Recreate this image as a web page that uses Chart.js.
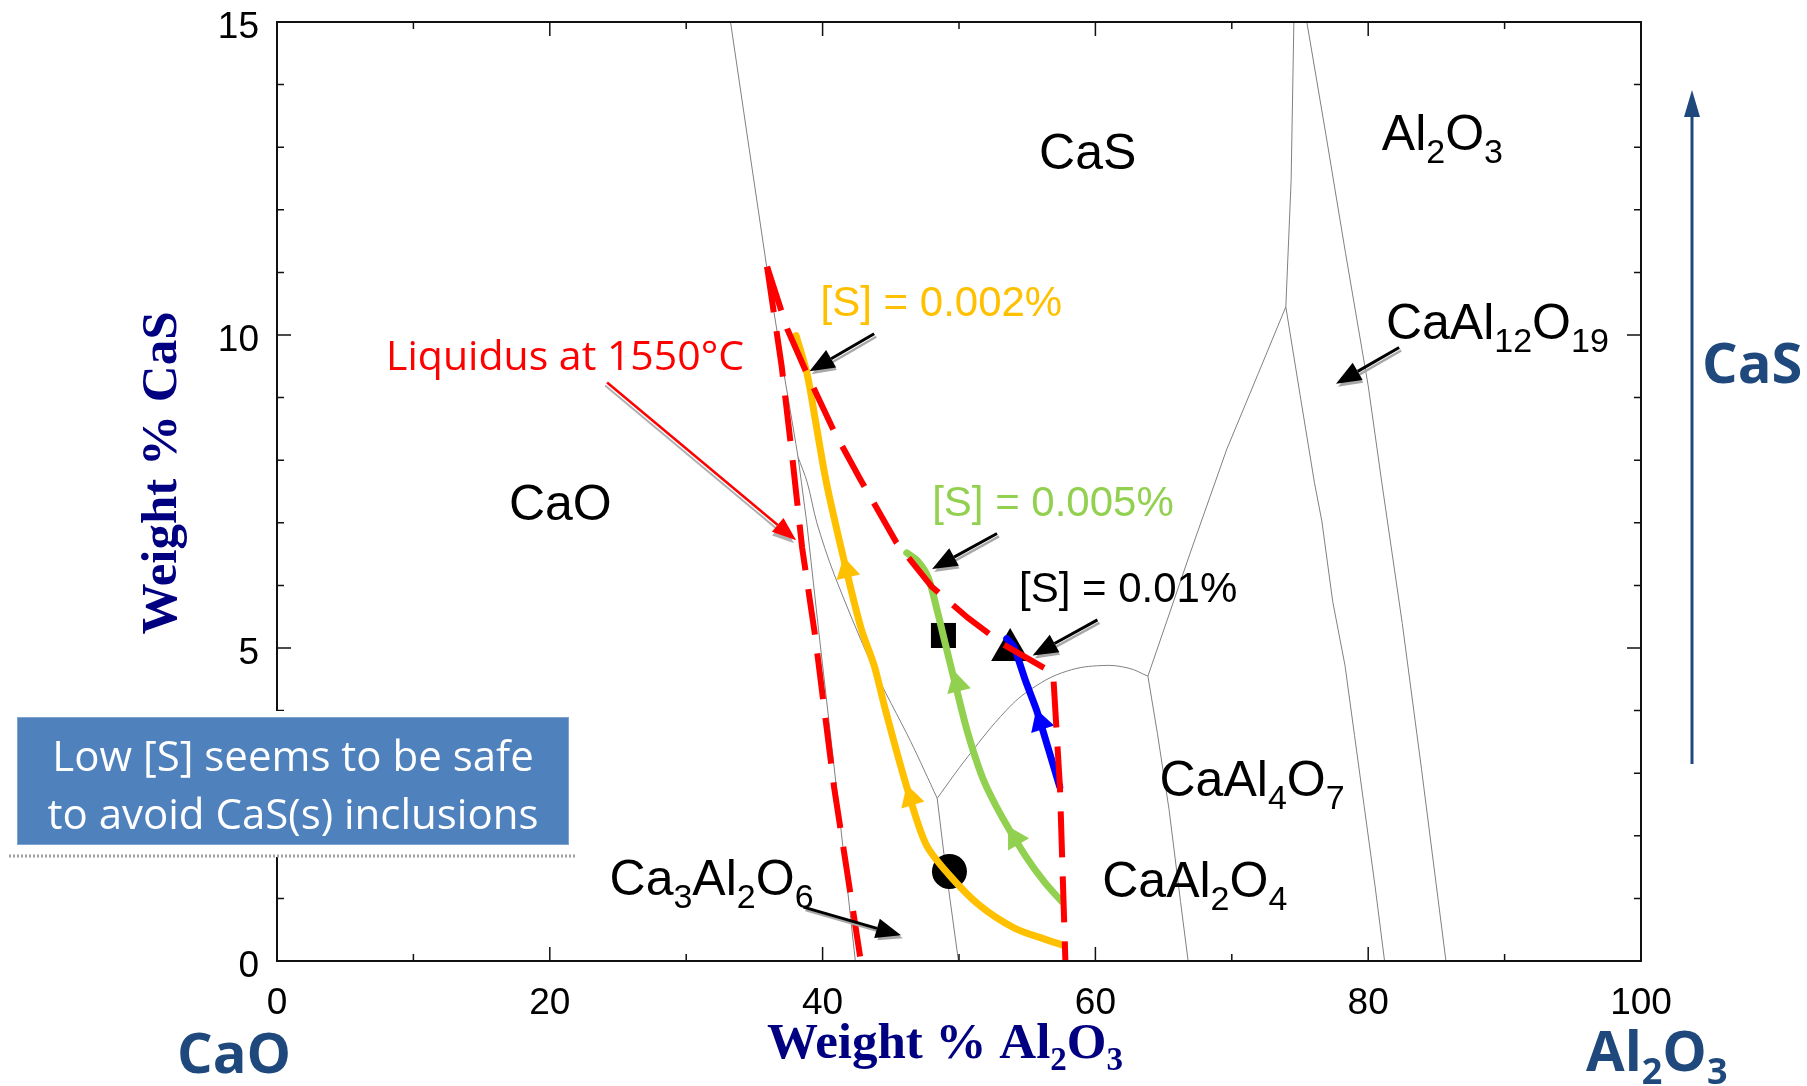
<!DOCTYPE html>
<html>
<head>
<meta charset="utf-8">
<title>CaO - Al2O3 - CaS</title>
<script src="https://cdn.jsdelivr.net/npm/chart.js@4.4.1/dist/chart.umd.min.js"></script>
<style>
  html, body { margin: 0; padding: 0; background: #fff; }
  #contenedor { width: 1807px; height: 1086px; }
</style>
</head>
<body>
<div id="contenedor"><canvas id="diagrama" width="1807" height="1086"></canvas></div>
<script>
// Ejes: % Al2O3 (x) y % CaS (y)
const ticksX = [0, 20, 40, 60, 80, 100];
const ticksY = [0, 5, 10, 15];

// Límites de fase (líneas grises), pares [x, y]
const limiteCaO = [[33.25, 15], [34.6, 13.0], [35.9, 11.09], [37.0, 9.6], [38.05, 8.25], [38.2, 8.05]];
const limiteCaO_C3A = [[38.2, 8.05], [38.45, 7.64], [38.84, 7.0], [39.7, 5.3], [40.8, 3.19], [41.6, 1.6], [42.4, 0]];
const limiteCaS_C3A = [[38.2, 8.05], [38.88, 7.64], [39.58, 7.0], [40.84, 6.18], [43.64, 4.72], [46.45, 3.51], [48.4, 2.6]];
const limiteC3A_CA = [[48.4, 2.6], [48.98, 1.56], [49.96, 0]];
const limiteCaS_CA = [[48.4, 2.6], [50.67, 3.27], [53.45, 4.0], [55.4, 4.36], [57.9, 4.63], [60.5, 4.72], [62.4, 4.68], [63.85, 4.55]];
const limiteCA_CA2 = [[63.85, 4.55], [64.55, 3.63], [65.4, 2.42], [66.24, 0.95], [66.8, 0]];
const limiteCaS_CA2 = [[63.85, 4.55], [67.0, 6.55], [69.64, 8.18], [71.93, 9.38], [73.96, 10.45]];
const limiteCaS_A = [[73.96, 10.45], [74.35, 12.47], [74.55, 15]];
const limiteCA2_CA6 = [[73.96, 10.45], [75.0, 9.05], [76.06, 7.64], [76.6, 7.03], [77.4, 5.74], [78.3, 4.72], [79.0, 3.6], [79.7, 2.48], [80.5, 1.2], [81.2, 0]];
const limiteCA6_A = [[75.5, 15], [76.9, 13.2], [78.33, 11.32], [80.0, 9.19], [81.0, 7.64], [82.5, 5.39], [83.9, 3.08], [85.7, 0]];

// Liquidus a 1550 °C (rojo discontinuo)
const liquidusIzq = [[35.93, 11.09], [37.0, 9.5], [37.8, 8.0], [38.5, 6.6], [39.44, 5.21], [40.84, 2.78], [42.8, 0]];
const liquidusDer = [[35.93, 11.09], [37.4, 10.1], [38.86, 9.38], [40.84, 8.46], [42.8, 7.68], [45.4, 6.69], [48.0, 5.98], [50.66, 5.48], [53.3, 5.05], [56.9, 4.6], [57.4, 2.78], [57.8, 0]];

// Trayectorias para cada [S]
const curvaS002 = [[38.06, 9.99], [38.86, 9.38], [39.5, 8.6], [40.28, 7.64], [41.54, 6.43], [42.8, 5.33], [43.78, 4.72], [44.63, 3.99], [46.17, 2.78], [47.57, 1.87], [49.26, 1.38], [51.5, 0.89], [54.03, 0.53], [56.27, 0.35], [57.68, 0.25]];
const curvaS005 = [[46.17, 6.52], [47.0, 6.38], [47.75, 6.12], [48.4, 5.6], [48.97, 5.09], [49.8, 4.36], [50.66, 3.63], [51.78, 2.9], [53.18, 2.29], [54.87, 1.68], [56.27, 1.26], [57.53, 0.95]];
const curvaS01 = [[53.5, 5.15], [54.02, 5.02], [54.87, 4.48], [55.7, 4.0], [56.55, 3.39], [57.39, 2.78]];

// Puntas de flecha sobre las trayectorias
const flechasS002 = [[41.77, 6.24], [46.47, 2.6]];
const flechasS005 = [[49.88, 4.42], [54.11, 1.96]];
const flechasS01 = [[55.98, 3.81]];

// Composiciones marcadas
const puntoCuadrado = [[48.86, 5.2]];
const puntoTriangulo = [[53.75, 4.97]];
const puntoCirculo = [[49.3, 1.43]];

const SANS = '"Liberation Sans", Arial, sans-serif';
const SERIF = '"Liberation Serif", "Times New Roman", serif';
const CALIBRI = '"Open Sans", "Noto Sans", sans-serif';
const AZUL_OSCURO = '#1F497D';

const aPuntos = arr => arr.map(([x, y]) => ({ x, y }));

function linea(datos, color, ancho, extra) {
    return Object.assign({
        data: aPuntos(datos),
        showLine: true,
        borderColor: color,
        borderWidth: ancho,
        pointRadius: 0,
        fill: false,
        tension: 0
    }, extra || {});
}

function marcador(datos, estilo, radio, extra) {
    return Object.assign({
        data: aPuntos(datos),
        showLine: false,
        pointStyle: estilo,
        pointRadius: radio,
        pointBackgroundColor: '#000',
        pointBorderColor: '#000',
        pointBorderWidth: 0
    }, extra || {});
}

const gris = { order: 4 };
const datasets = [
    linea(limiteCaO, '#808080', 1, gris),
    linea(limiteCaO_C3A, '#808080', 1, gris),
    linea(limiteCaS_C3A, '#808080', 1, Object.assign({ tension: 0.3 }, gris)),
    linea(limiteC3A_CA, '#808080', 1, gris),
    linea(limiteCaS_CA, '#808080', 1, Object.assign({ tension: 0.4 }, gris)),
    linea(limiteCA_CA2, '#808080', 1, gris),
    linea(limiteCaS_CA2, '#808080', 1, gris),
    linea(limiteCaS_A, '#808080', 1, gris),
    linea(limiteCA2_CA6, '#808080', 1, gris),
    linea(limiteCA6_A, '#808080', 1, gris),

    marcador(puntoCuadrado, 'rect', 17.7, { order: 3 }),
    marcador(puntoTriangulo, 'triangle', 22, { order: 3 }),
    marcador(puntoCirculo, 'circle', 17.5, { order: 3 }),

    linea(curvaS002, '#FFC000', 7, { order: 2, tension: 0.3, borderCapStyle: 'round' }),
    linea(curvaS005, '#92D050', 7, { order: 2, tension: 0.3, borderCapStyle: 'round' }),
    linea(curvaS01, '#0000FF', 7, { order: 2, tension: 0.2, borderCapStyle: 'round' }),

    marcador(flechasS002, 'triangle', 14, { order: 1, pointBackgroundColor: '#FFC000', pointBorderColor: '#FFC000', pointRotation: [-13, -17] }),
    marcador(flechasS005, 'triangle', 14, { order: 1, pointBackgroundColor: '#92D050', pointBorderColor: '#92D050', pointRotation: [-14, -30] }),
    marcador(flechasS01, 'triangle', 14, { order: 1, pointBackgroundColor: '#0000FF', pointBorderColor: '#0000FF', pointRotation: [-18] }),

    linea(liquidusIzq, '#FF0000', 6, { order: 0, borderDash: [46, 19] }),
    linea(liquidusDer, '#FF0000', 6, { order: 0, borderDash: [46, 19] })
];

// Rótulos de fases (posición en unidades de los ejes: izquierda y línea base)
const rotulosFases = [
    { texto: 'CaS', x: 55.87, y: 12.65 },
    { texto: 'Al2O3', x: 81.0, y: 12.96 },
    { texto: 'CaAl12O19', x: 81.3, y: 9.93 },
    { texto: 'CaO', x: 17.0, y: 7.04 },
    { texto: 'CaAl4O7', x: 64.7, y: 2.63 },
    { texto: 'CaAl2O4', x: 60.5, y: 1.03 },
    { texto: 'Ca3Al2O6', x: 24.38, y: 1.05 }
];

const rotulosAzufre = [
    { texto: '[S] = 0.002%', x: 39.85, y: 10.3, color: '#FFC000' },
    { texto: '[S] = 0.005%', x: 48.03, y: 7.11, color: '#92D050' },
    { texto: '[S] = 0.01%', x: 54.4, y: 5.73, color: '#000' }
];

// Flechas de anotación: [x0, y0, x1, y1]
const flechasNegras = [
    [43.78, 10.02, 39.04, 9.42],
    [52.79, 6.83, 48.03, 6.26],
    [60.15, 5.45, 55.4, 4.88],
    [82.27, 9.8, 77.64, 9.22],
    [38.6, 0.86, 45.75, 0.41]
];
const flechaLiquidus = [24.2, 9.24, 38.06, 6.72];

function textoQuimico(ctx, texto, x, y, tam, tamSub, bajada, familia, peso) {
    const trozos = texto.match(/[^0-9]+|[0-9]+/g);
    let cx = x;
    trozos.forEach(t => {
        const esSub = /^[0-9]+$/.test(t);
        ctx.font = `${peso} ${esSub ? tamSub : tam}px ${familia}`;
        ctx.fillText(t, cx, esSub ? y + bajada : y);
        cx += ctx.measureText(t).width;
    });
    return cx - x;
}

function flecha(ctx, x0, y0, x1, y1, color, ancho, largo, medio) {
    const ang = Math.atan2(y1 - y0, x1 - x0);
    const bx = x1 - Math.cos(ang) * largo, by = y1 - Math.sin(ang) * largo;
    ctx.strokeStyle = color;
    ctx.lineWidth = ancho;
    ctx.beginPath(); ctx.moveTo(x0, y0); ctx.lineTo(bx, by); ctx.stroke();
    ctx.fillStyle = color;
    ctx.beginPath();
    ctx.moveTo(x1, y1);
    ctx.lineTo(bx + Math.sin(ang) * medio, by - Math.cos(ang) * medio);
    ctx.lineTo(bx - Math.sin(ang) * medio, by + Math.cos(ang) * medio);
    ctx.closePath();
    ctx.fill();
}

const decorado = {
    id: 'decorado',
    afterDatasetsDraw(chart) {
        const { ctx, chartArea: a, scales: { x, y } } = chart;
        const px = v => x.getPixelForValue(v);
        const py = v => y.getPixelForValue(v);
        ctx.save();

        // marco y marcas hacia dentro
        ctx.strokeStyle = '#111';
        ctx.lineWidth = 2;
        ctx.strokeRect(a.left, a.top, a.right - a.left, a.bottom - a.top);
        ctx.lineWidth = 1.5;
        ctx.beginPath();
        for (let v = 0; v <= 100; v += 10) {
            const p = px(v), l = v % 20 === 0 ? 14 : 7;
            ctx.moveTo(p, a.bottom); ctx.lineTo(p, a.bottom - l);
            ctx.moveTo(p, a.top); ctx.lineTo(p, a.top + l);
        }
        for (let v = 0; v <= 15; v++) {
            const p = py(v), l = v % 5 === 0 ? 14 : 7;
            ctx.moveTo(a.left, p); ctx.lineTo(a.left + l, p);
            ctx.moveTo(a.right, p); ctx.lineTo(a.right - l, p);
        }
        ctx.stroke();

        // flechas de anotación con su sombra gris
        flechasNegras.forEach(([x0, y0, x1, y1]) => {
            flecha(ctx, px(x0) + 2, py(y0) + 3, px(x1) + 2, py(y1) + 3, '#a8a8a8', 2.5, 24, 9);
            flecha(ctx, px(x0), py(y0), px(x1), py(y1), '#000', 3, 25, 10);
        });
        const [lx0, ly0, lx1, ly1] = flechaLiquidus;
        flecha(ctx, px(lx0) - 2, py(ly0) + 3, px(lx1) - 2, py(ly1) + 3, '#b0b0b0', 2, 22, 8);
        flecha(ctx, px(lx0), py(ly0), px(lx1), py(ly1), '#FF0000', 2.5, 24, 9);

        // rótulos
        ctx.textAlign = 'left';
        ctx.textBaseline = 'alphabetic';
        ctx.fillStyle = '#000';
        rotulosFases.forEach(r => textoQuimico(ctx, r.texto, px(r.x), py(r.y), 50, 34, 13, SANS, 'normal'));
        ctx.font = `42px ${SANS}`;
        rotulosAzufre.forEach(r => {
            ctx.fillStyle = r.color;
            ctx.fillText(r.texto, px(r.x), py(r.y));
        });
        ctx.fillStyle = '#FF0000';
        ctx.font = `41px ${CALIBRI}`;
        ctx.fillText('Liquidus at 1550°C', px(8.0), py(9.44));

        // recuadro azul
        ctx.fillStyle = '#fff';
        ctx.fillRect(9, 711, 568, 146);
        ctx.strokeStyle = '#a0a0a0';
        ctx.lineWidth = 3;
        ctx.setLineDash([2, 2]);
        ctx.beginPath(); ctx.moveTo(9, 856); ctx.lineTo(577, 856); ctx.stroke();
        ctx.setLineDash([]);
        ctx.fillStyle = '#4F81BD';
        ctx.fillRect(17, 717, 552, 128);
        ctx.strokeStyle = '#7FA3D1';
        ctx.lineWidth = 1;
        ctx.strokeRect(17.5, 717.5, 551, 127);
        ctx.fillStyle = '#fff';
        ctx.textAlign = 'center';
        ctx.font = `42px ${CALIBRI}`;
        ctx.fillText('Low [S] seems to be safe', 293, 771);
        ctx.fillText('to avoid CaS(s) inclusions', 293, 829);

        // títulos de los ejes
        ctx.fillStyle = '#000080';
        ctx.save();
        ctx.translate(176, 473);
        ctx.rotate(-Math.PI / 2);
        ctx.font = `bold 51px ${SERIF}`;
        ctx.fillText('Weight % CaS', 0, 0);
        ctx.restore();
        ctx.textAlign = 'left';
        textoQuimico(ctx, 'Weight % Al2O3', 767, 1058, 51, 33, 12, SERIF, 'bold');

        // vértices del sistema
        ctx.fillStyle = AZUL_OSCURO;
        textoQuimico(ctx, 'CaO', 177, 1073, 56, 36, 13, CALIBRI, 'bold');
        textoQuimico(ctx, 'Al2O3', 1586, 1071, 56, 36, 13, CALIBRI, 'bold');
        textoQuimico(ctx, 'CaS', 1702, 383, 56, 36, 13, CALIBRI, 'bold');
        flecha(ctx, 1692, 764, 1692, 90, AZUL_OSCURO, 3, 27, 8);

        ctx.restore();
    }
};

// sin márgenes extra de las etiquetas: el área del gráfico queda fija
function sinRelleno(s) {
    s.paddingTop = 0;
    s.paddingBottom = 0;
    s.paddingLeft = 0;
    s.paddingRight = 0;
}

new Chart(document.getElementById('diagrama'), {
    type: 'scatter',
    data: { datasets },
    options: {
        responsive: false,
        devicePixelRatio: 1,
        animation: false,
        events: [],
        layout: { padding: { top: 17, right: 166, left: 0, bottom: 0 } },
        plugins: { legend: { display: false }, tooltip: { enabled: false } },
        scales: {
            x: {
                type: 'linear', min: 0, max: 100,
                afterFit: s => { s.height = 125; sinRelleno(s); },
                afterBuildTicks: s => { s.ticks = ticksX.map(v => ({ value: v })); },
                grid: { display: false, drawTicks: false },
                border: { display: false },
                ticks: { color: '#000', padding: 21, font: { family: SANS, size: 37, lineHeight: 1.2 } }
            },
            y: {
                type: 'linear', min: 0, max: 15,
                afterFit: s => { s.width = 277; sinRelleno(s); },
                afterBuildTicks: s => { s.ticks = ticksY.map(v => ({ value: v })); },
                grid: { display: false, drawTicks: false },
                border: { display: false },
                ticks: { color: '#000', padding: 18, labelOffset: 6, font: { family: SANS, size: 37, lineHeight: 0.9 } }
            }
        }
    },
    plugins: [decorado]
});
</script>
</body>
</html>
